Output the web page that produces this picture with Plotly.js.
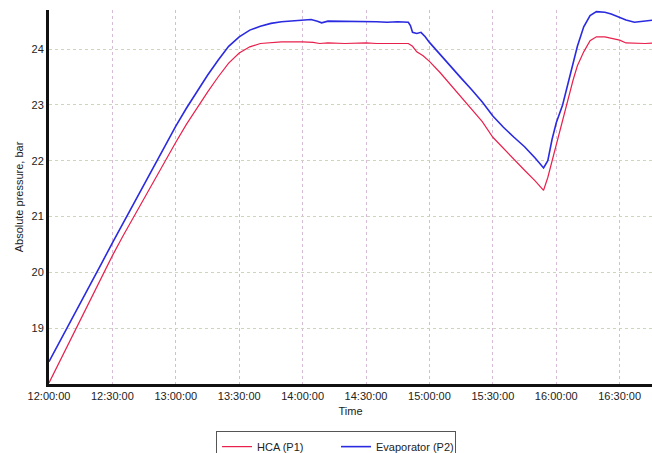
<!DOCTYPE html>
<html>
<head>
<meta charset="utf-8">
<script src="https://cdn.plot.ly/plotly-3.0.1.min.js"></script>
<style>html,body{margin:0;padding:0;background:#fff;}#chart{width:652px;height:453px;}</style>
</head>
<body>
<div id="chart"></div>
<script>
// Evaporator (P2) – blue
const timesP2 = ["12:00","12:05","12:10","12:15","12:20","12:25","12:30","12:35","12:40","12:45","12:50","12:55","13:00","13:05","13:10","13:15","13:20","13:25","13:30","13:35","13:40","13:45","13:50","13:55","14:00","14:04","14:07","14:09","14:12","14:20","14:30","14:35","14:40","14:45","14:50","14:51","14:52","14:54","14:56","14:58","15:00","15:05","15:10","15:15","15:20","15:25","15:30","15:35","15:40","15:45","15:50","15:53","15:54","15:56","15:58","16:00","16:03","16:06","16:09","16:10","16:13","16:16","16:19","16:23","16:26","16:30","16:33","16:37","16:40","16:43","16:46"];
const evaporatorP2 = [18.40,18.75,19.10,19.47,19.82,20.17,20.53,20.88,21.23,21.58,21.93,22.27,22.62,22.94,23.24,23.53,23.80,24.05,24.22,24.34,24.41,24.46,24.49,24.50,24.52,24.53,24.50,24.47,24.50,24.50,24.50,24.49,24.48,24.49,24.48,24.42,24.30,24.28,24.30,24.22,24.12,23.90,23.68,23.48,23.27,23.05,22.80,22.60,22.42,22.25,22.05,21.90,21.87,22.00,22.38,22.68,23.00,23.45,23.90,24.05,24.40,24.60,24.67,24.66,24.63,24.57,24.52,24.48,24.49,24.51,24.52];

// HCA (P1) – red
const timesP1 = ["12:00","12:05","12:10","12:15","12:20","12:25","12:30","12:35","12:40","12:45","12:50","12:55","13:00","13:05","13:10","13:15","13:20","13:25","13:30","13:35","13:40","13:45","13:50","14:00","14:05","14:08","14:12","14:20","14:30","14:35","14:40","14:45","14:50","14:52","14:54","14:57","15:00","15:05","15:10","15:15","15:20","15:25","15:30","15:35","15:40","15:45","15:50","15:54","15:56","15:58","16:00","16:03","16:05","16:08","16:10","16:13","16:16","16:19","16:23","16:27","16:30","16:33","16:37","16:42","16:46"];
const hcaP1 = [18.02,18.40,18.78,19.16,19.55,19.93,20.30,20.65,20.99,21.33,21.66,21.99,22.33,22.65,22.95,23.23,23.50,23.75,23.93,24.04,24.10,24.12,24.13,24.13,24.12,24.10,24.11,24.10,24.11,24.10,24.10,24.10,24.10,24.05,23.95,23.88,23.78,23.58,23.36,23.14,22.92,22.70,22.42,22.22,22.02,21.83,21.64,21.47,21.70,22.00,22.30,22.70,23.00,23.45,23.70,23.95,24.15,24.22,24.22,24.19,24.16,24.11,24.10,24.10,24.11];

const xTickVals = ["12:00","12:30","13:00","13:30","14:00","14:30","15:00","15:30","16:00","16:30"];
const yTickVals = [19,20,21,22,23,24];

const day = "2024-01-01 ";
const toDate = t => day + t + ":00";

const traces = [
  {x: timesP1.map(toDate), y: hcaP1, name: "HCA (P1)", type: "scatter", mode: "lines",
   line: {color: "#e8204c", width: 1.2}},
  {x: timesP2.map(toDate), y: evaporatorP2, name: "Evaporator (P2)", type: "scatter", mode: "lines",
   line: {color: "#2a2ae0", width: 1.6}}
];

const fontFam = "Liberation Sans, Arial, sans-serif";
const layout = {
  width: 652, height: 453,
  margin: {l: 49, r: 0, t: 10, b: 69, autoexpand: false},
  paper_bgcolor: "#ffffff", plot_bgcolor: "#ffffff",
  font: {family: fontFam, size: 11, color: "#222"},
  showlegend: true,
  legend: {orientation: "h", x: 0.277, y: -0.126, xanchor: "left", yanchor: "top",
           bordercolor: "#555", borderwidth: 1, font: {size: 11, color: "#222"},
           itemwidth: 30, entrywidth: 74, tracegroupgap: 0},
  xaxis: {
    type: "date",
    range: [toDate("12:00"), day + "16:45:18"],
    tickvals: xTickVals.map(toDate),
    tickformat: "%H:%M:%S",
    showgrid: true, gridcolor: "#d6bcd6", griddash: "dot", gridwidth: 1,
    showline: true, linecolor: "#111", linewidth: 3,
    ticks: "", zeroline: false,
    title: {text: "Time", font: {size: 11, color: "#222"}, standoff: 7},
    tickfont: {size: 11, color: "#222"}
  },
  yaxis: {
    range: [18, 24.7],
    tickvals: yTickVals,
    showgrid: true, gridcolor: "#cdd6bc", griddash: "dot", gridwidth: 1,
    showline: true, linecolor: "#111", linewidth: 3,
    ticks: "", zeroline: false,
    title: {text: "Absolute pressure, bar", font: {size: 11, color: "#222"}, standoff: 6},
    tickfont: {size: 11, color: "#222"}
  }
};

Plotly.newPlot("chart", traces, layout, {displayModeBar: false, staticPlot: true});
</script>
</body>
</html>
